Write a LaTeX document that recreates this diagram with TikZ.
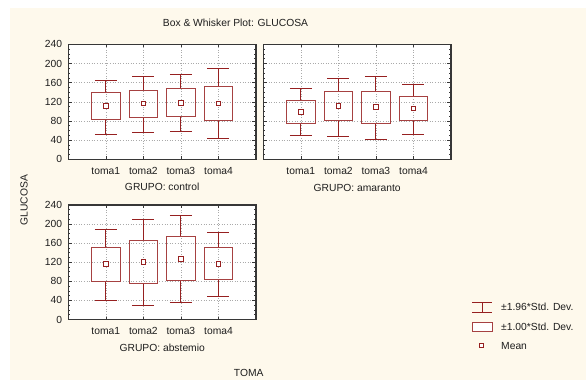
\documentclass[tikz,border=0pt]{standalone}
\usepackage{fontspec}
\setmainfont{Liberation Sans}
\definecolor{cream}{RGB}{254,249,236}
\definecolor{bwred}{RGB}{150,32,32}
\definecolor{frm}{RGB}{55,55,55}
\definecolor{grd}{RGB}{170,170,170}
\definecolor{txt}{RGB}{30,30,30}
\newcommand\bwitem[6]{%
  \draw[bw] (#1-11,#2) -- (#1+11,#2) (#1,#2) -- (#1,#3) (#1,#5) -- (#1,#6) (#1-11,#6) -- (#1+11,#6);
  \draw[bwbox] (#1-14.3,#3) rectangle (#1+14.3,#5);
  \node[meanmk] at (#1,#4) {};
}
\newcommand\panelframe[1]{%
  \fill[white] (0,0) rectangle (#1,240);
  \foreach \v in {40,80,...,200} \draw[grd] (0,\v) -- (#1,\v);
  \foreach \k in {1,2,3,4} \draw[grd] ({#1/5*\k},0) -- ({#1/5*\k},240);
  \foreach \v in {10,20,...,230} {\draw[tk] (0,\v) -- (2,\v); \draw[tk] (#1,\v) -- (#1-2,\v);}
  \foreach \v in {40,80,...,200} {\draw[tk] (0,\v) -- (4,\v); \draw[tk] (#1,\v) -- (#1-4,\v);}
  \foreach \k in {1,2,3,4} {\draw[tk] ({#1/5*\k},0) -- ({#1/5*\k},6); \draw[tk] ({#1/5*\k},240) -- ({#1/5*\k},234);}
  \draw[frame] (0,0) rectangle (#1,240);
}
\begin{document}
\begin{tikzpicture}[x=1pt,y=-1pt,
  lbl/.style={font=\fontsize{10.3}{12}\selectfont, text=txt, inner sep=0pt},
  bw/.style={draw=bwred, line width=1pt},
  bwbox/.style={draw=bwred!85!white, line width=1pt},
  meanmk/.style={draw=bwred, line width=0.9pt, minimum size=4.4pt, inner sep=0pt, rectangle, fill=white},
  frame/.style={draw=frm, line width=1.2pt},
  grd/.style={draw=grd, line width=0.6pt, dotted},
  tk/.style={draw=frm, line width=0.6pt}]
\useasboundingbox (0,0) rectangle (586,381);
\fill[white] (0,0) rectangle (586,381);
\fill[cream] (10,8) rectangle (586,380);

\node[lbl] (title) at (235.5,23) {Box \& Whisker Plot: GLUCOSA};
\node[lbl, rotate=90] (ylab) at (24,200) {GLUCOSA};
\node[lbl] (xlab) at (248.7,372.7) {TOMA};

% panel 1: control
\begin{scope}[shift={(68.3,159.3)}, x=1pt, y=0.4792pt]
  \panelframe{187.7}
  \foreach \v in {0,40,...,240} \node[lbl, anchor=east] at (-6,\v) {\v};
  \bwitem{37.54}{52}{83.5}{111}{139}{165}
  \bwitem{75.08}{56}{87}{116}{144.6}{173}
  \bwitem{112.62}{57.6}{89}{118}{147}{176.6}
  \bwitem{150.16}{43}{81.4}{116}{151.5}{188.5}
\end{scope}
\node[lbl] (c1) at (105.8,171) {toma1};
\node[lbl] (c2) at (143.4,171) {toma2};
\node[lbl] (c3) at (180.9,171) {toma3};
\node[lbl] (c4) at (218.5,171) {toma4};
\node[lbl] (g1) at (162.2,187) {GRUPO: control};

% panel 2: amaranto
\begin{scope}[shift={(263.3,159.3)}, x=1pt, y=0.4792pt]
  \panelframe{187.7}
  \bwitem{37.54}{50}{75}{99}{123}{148}
  \bwitem{75.08}{48}{81}{111}{140.5}{169}
  \bwitem{112.62}{42}{75}{109}{140.5}{173}
  \bwitem{150.16}{52}{80}{105.6}{130.6}{156.5}
\end{scope}
\node[lbl] (a1) at (300.8,171) {toma1};
\node[lbl] (a2) at (338.4,171) {toma2};
\node[lbl] (a3) at (375.9,171) {toma3};
\node[lbl] (a4) at (413.5,171) {toma4};
\node[lbl] (g2) at (357.2,188) {GRUPO: amaranto};

% panel 3: abstemio
\begin{scope}[shift={(68.3,319.5)}, x=1pt, y=0.4771pt]
  \panelframe{187.7}
  \foreach \v in {0,40,...,240} \node[lbl, anchor=east] at (-6,\v) {\v};
  \bwitem{37.54}{40.5}{80.4}{116.8}{151.8}{189}
  \bwitem{75.08}{28.6}{75.6}{121}{166}{210.6}
  \bwitem{112.62}{35}{82}{126.6}{173.5}{218}
  \bwitem{150.16}{47.5}{83}{116.8}{150}{183}
\end{scope}
\node[lbl] (b1) at (105.8,330.7) {toma1};
\node[lbl] (b2) at (143.4,330.7) {toma2};
\node[lbl] (b3) at (180.9,330.7) {toma3};
\node[lbl] (b4) at (218.5,330.7) {toma4};
\node[lbl] (g3) at (162.2,348) {GRUPO: abstemio};

% legend
\draw[bw] (472,302) -- (492,302) (482,302) -- (482,312) (472,312) -- (492,312);
\draw[bwbox, fill=white] (472,322) rectangle (492,331);
\node[meanmk] (lm) at (481.7,345.7) {};
\node[lbl, anchor=west] (l1) at (501,306.7) {±1.96*Std. Dev.};
\node[lbl, anchor=west] (l2) at (501,326.7) {±1.00*Std. Dev.};
\node[lbl, anchor=west] (l3) at (501,345.7) {Mean};
\end{tikzpicture}
\end{document}
